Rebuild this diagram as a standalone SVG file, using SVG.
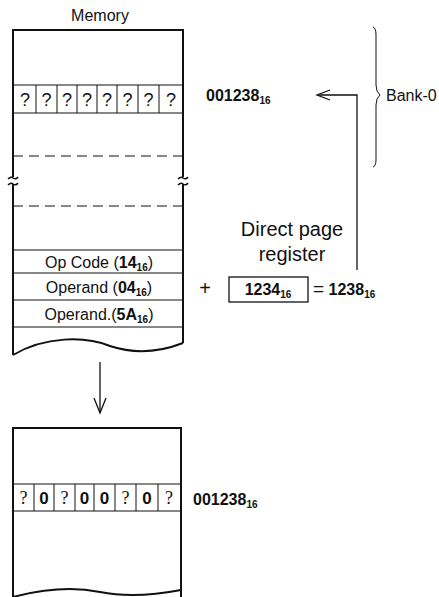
<svg xmlns="http://www.w3.org/2000/svg" width="439" height="597" viewBox="0 0 439 597">
<style>
text{font-family:"Liberation Sans",Arial,sans-serif;fill:#111}
.ln{stroke:#111;fill:none}
.bd{stroke:#111;stroke-width:2;fill:none}
.q{font-family:"Liberation Serif","Times New Roman",serif;font-size:18px;text-anchor:middle}
.z{font-weight:bold;font-size:17px;text-anchor:middle}
.lbl{font-size:16px;text-anchor:middle}
.b{font-weight:bold}
.sub{font-size:10px;font-weight:bold}
</style>
<rect width="439" height="597" fill="#fff"/>

<g id="memory-top">
  <text class="lbl" x="100" y="21">Memory</text>
  <path class="bd" d="M13,177 V30 H183 V177"/>
  <path class="bd" d="M13,184 V355"/>
  <path class="bd" d="M183,184 V343"/>
  <path class="bd" d="M13,355 C45,336 85,336 110,346 C140,356 165,350 183,343"/>
  <path class="ln" stroke-width="1.5" d="M8,179 q3,-3 5,-1 q3,2 5,-1"/>
  <path class="ln" stroke-width="1.5" d="M8,185 q3,-3 5,-1 q3,2 5,-1"/>
  <path class="ln" stroke-width="1.5" d="M178,179 q3,-3 5,-1 q3,2 5,-1"/>
  <path class="ln" stroke-width="1.5" d="M178,185 q3,-3 5,-1 q3,2 5,-1"/>
  <line class="ln" x1="13" y1="85" x2="183" y2="85"/>
  <line class="ln" x1="13" y1="113" x2="183" y2="113"/>
  <path class="ln" d="M36,85V113M57,85V113M77,85V113M97,85V113M117,85V113M138,85V113M159,85V113"/>
  <g class="q">
    <text x="25" y="106">?</text><text x="46.5" y="106">?</text><text x="67" y="106">?</text><text x="87" y="106">?</text>
    <text x="107" y="106">?</text><text x="127.5" y="106">?</text><text x="148.5" y="106">?</text><text x="171" y="106">?</text>
  </g>
  <line class="ln" x1="13" y1="156" x2="183" y2="156" stroke-dasharray="10,6"/>
  <line class="ln" x1="13" y1="206" x2="183" y2="206" stroke-dasharray="10,6"/>
  <line class="ln" x1="13" y1="250" x2="183" y2="250"/>
  <line class="ln" x1="13" y1="273" x2="183" y2="273"/>
  <line class="ln" x1="13" y1="300" x2="183" y2="300"/>
  <line class="ln" x1="13" y1="327" x2="183" y2="327"/>
  <text class="lbl" x="99" y="268">Op Code (<tspan class="b">14</tspan><tspan class="sub" dy="3">16</tspan><tspan dy="-3">)</tspan></text>
  <text class="lbl" x="99" y="293">Operand (<tspan class="b">04</tspan><tspan class="sub" dy="3">16</tspan><tspan dy="-3">)</tspan></text>
  <text class="lbl" x="99" y="320">Operand.(<tspan class="b">5A</tspan><tspan class="sub" dy="3">16</tspan><tspan dy="-3">)</tspan></text>
</g>

<g id="addr-top">
  <text x="206" y="101" font-size="16" class="b">001238<tspan class="sub" dy="3">16</tspan></text>
</g>

<g id="bank0">
  <path class="ln" d="M373,27 Q376,28 376,35 V85 Q376,92 380,95 Q376,98 376,105 V160 Q376,166 373,167"/>
  <text x="386" y="101" font-size="16">Bank-0</text>
</g>

<g id="dp-register">
  <text x="292" y="236" font-size="20" text-anchor="middle">Direct page</text>
  <text x="292" y="261" font-size="20" text-anchor="middle">register</text>
  <text x="205" y="295" font-size="20" text-anchor="middle">+</text>
  <rect class="ln" x="229" y="277" width="79" height="25" stroke-width="1.3"/>
  <text x="268" y="295" font-size="16" text-anchor="middle" class="b">1234<tspan class="sub" dy="3">16</tspan></text>
  <text x="313" y="295" font-size="16" class="b"><tspan font-weight="normal" font-size="19">=</tspan> 1238<tspan class="sub" dy="3">16</tspan></text>
</g>

<g id="connectors">
  <path class="ln" d="M357,270 V95 H318" stroke-width="1.3"/>
  <path class="ln" d="M330,90 L317,95 L330,100" stroke-width="1.3"/>
  <line class="ln" x1="100" y1="362" x2="100" y2="412" stroke-width="1.3"/>
  <path class="ln" d="M94,398 L100,413 L106,398" stroke-width="1.3"/>
</g>

<g id="memory-bottom">
  <path class="bd" d="M13,597 V428 H181 V597"/>
  <path class="bd" d="M13,597 C40,590 70,586 100,592 C130,598 160,594 181,590"/>
  <line class="ln" x1="13" y1="484" x2="181" y2="484"/>
  <line class="ln" x1="13" y1="511" x2="181" y2="511"/>
  <path class="ln" d="M34,484V511M54,484V511M75,484V511M94,484V511M115,484V511M136,484V511M158,484V511"/>
  <text class="q" x="23.5" y="504">?</text>
  <text class="z" x="44" y="504">0</text>
  <text class="q" x="64.5" y="504">?</text>
  <text class="z" x="84.5" y="504">0</text>
  <text class="z" x="104.5" y="504">0</text>
  <text class="q" x="125.5" y="504">?</text>
  <text class="z" x="147" y="504">0</text>
  <text class="q" x="169" y="504">?</text>
</g>

<g id="addr-bottom">
  <text x="193" y="505" font-size="16" class="b">001238<tspan class="sub" dy="3">16</tspan></text>
</g>
</svg>
